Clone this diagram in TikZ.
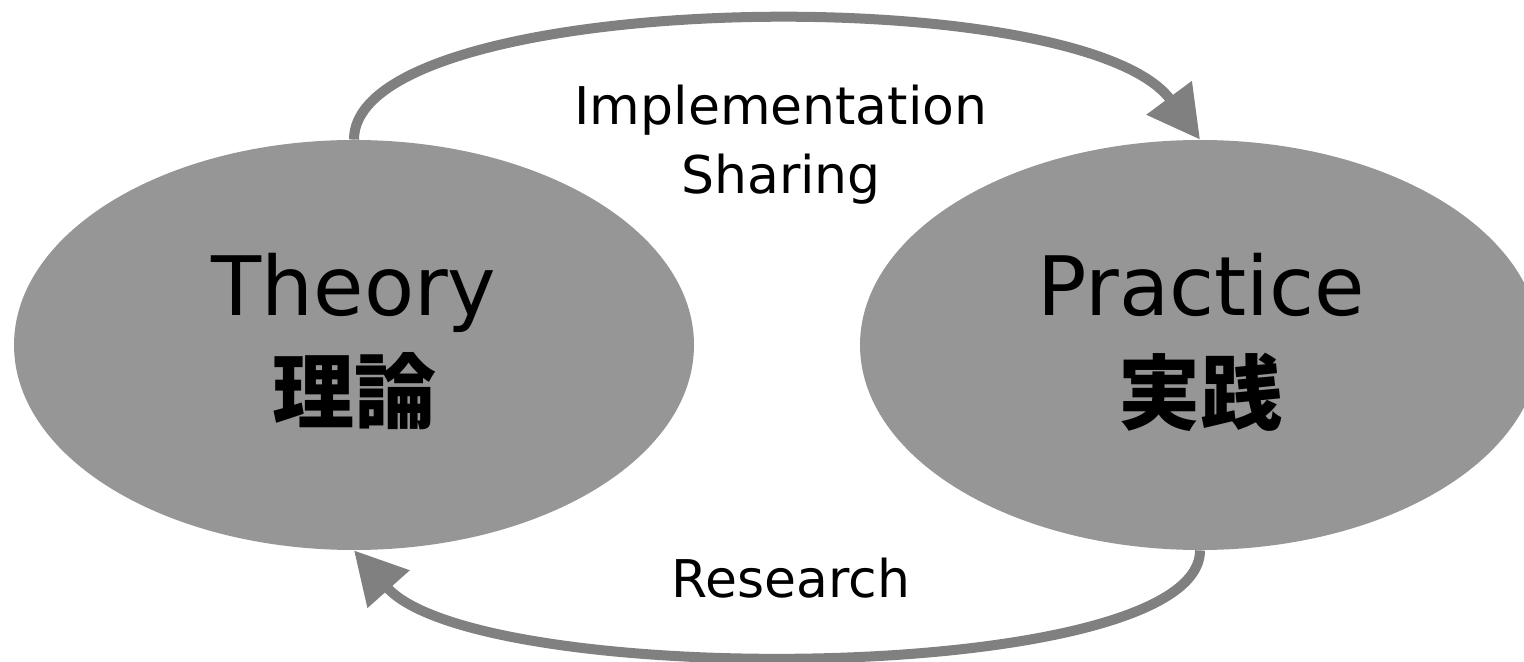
\documentclass[tikz,border=0pt]{standalone}
\usepackage{fontspec}
\setmainfont{DejaVu Sans}
\newfontfamily\jpfont{Noto Sans CJK JP}
\usetikzlibrary{shapes.geometric,arrows.meta}
\definecolor{blobgray}{RGB}{150,150,150}
\definecolor{loopgray}{RGB}{128,128,128}

\begin{document}
\begin{tikzpicture}[x=0.5pt,y=-0.5pt,
    blob/.style={ellipse,fill=blobgray,inner sep=0pt,minimum width=340pt,minimum height=205pt},
    loop/.style={draw=loopgray,line width=5pt,-{Triangle[length=26pt,width=27pt]}},
    bigword/.style={anchor=base,font=\fontsize{41pt}{41pt}\selectfont},
    jpword/.style={font=\jpfont\bfseries\fontsize{41pt}{41pt}\selectfont},
    loopword/.style={anchor=base,font=\fontsize{26pt}{26pt}\selectfont}]
  \useasboundingbox (0,0) rectangle (1524,662);
  \clip (0,0) rectangle (1524,662);
  \foreach \x/\n in {354/theory,1200/practice} {
    \node[blob] (\n) at (\x,345) {};
  }
  \draw[loop] (theory.north) .. controls +(0,-150) and +(-120,-162) .. (practice.north);
  \draw[loop] (practice.south) .. controls +(0,135) and +(125,140) .. (theory.south);
  \node[bigword] (theoryen) at (354,316) {Theory};
  \node[jpword] (theoryjp) at (354,391) {理論};
  \node[bigword] (practiceen) at (1201,316) {Practice};
  \node[jpword] (practicejp) at (1200,392) {実践};
  \node[loopword] (impl) at (781,125) {Implementation};
  \node[loopword] (share) at (781,194) {Sharing};
  \node[loopword] (research) at (791,597) {Research};
\end{tikzpicture}
\end{document}
